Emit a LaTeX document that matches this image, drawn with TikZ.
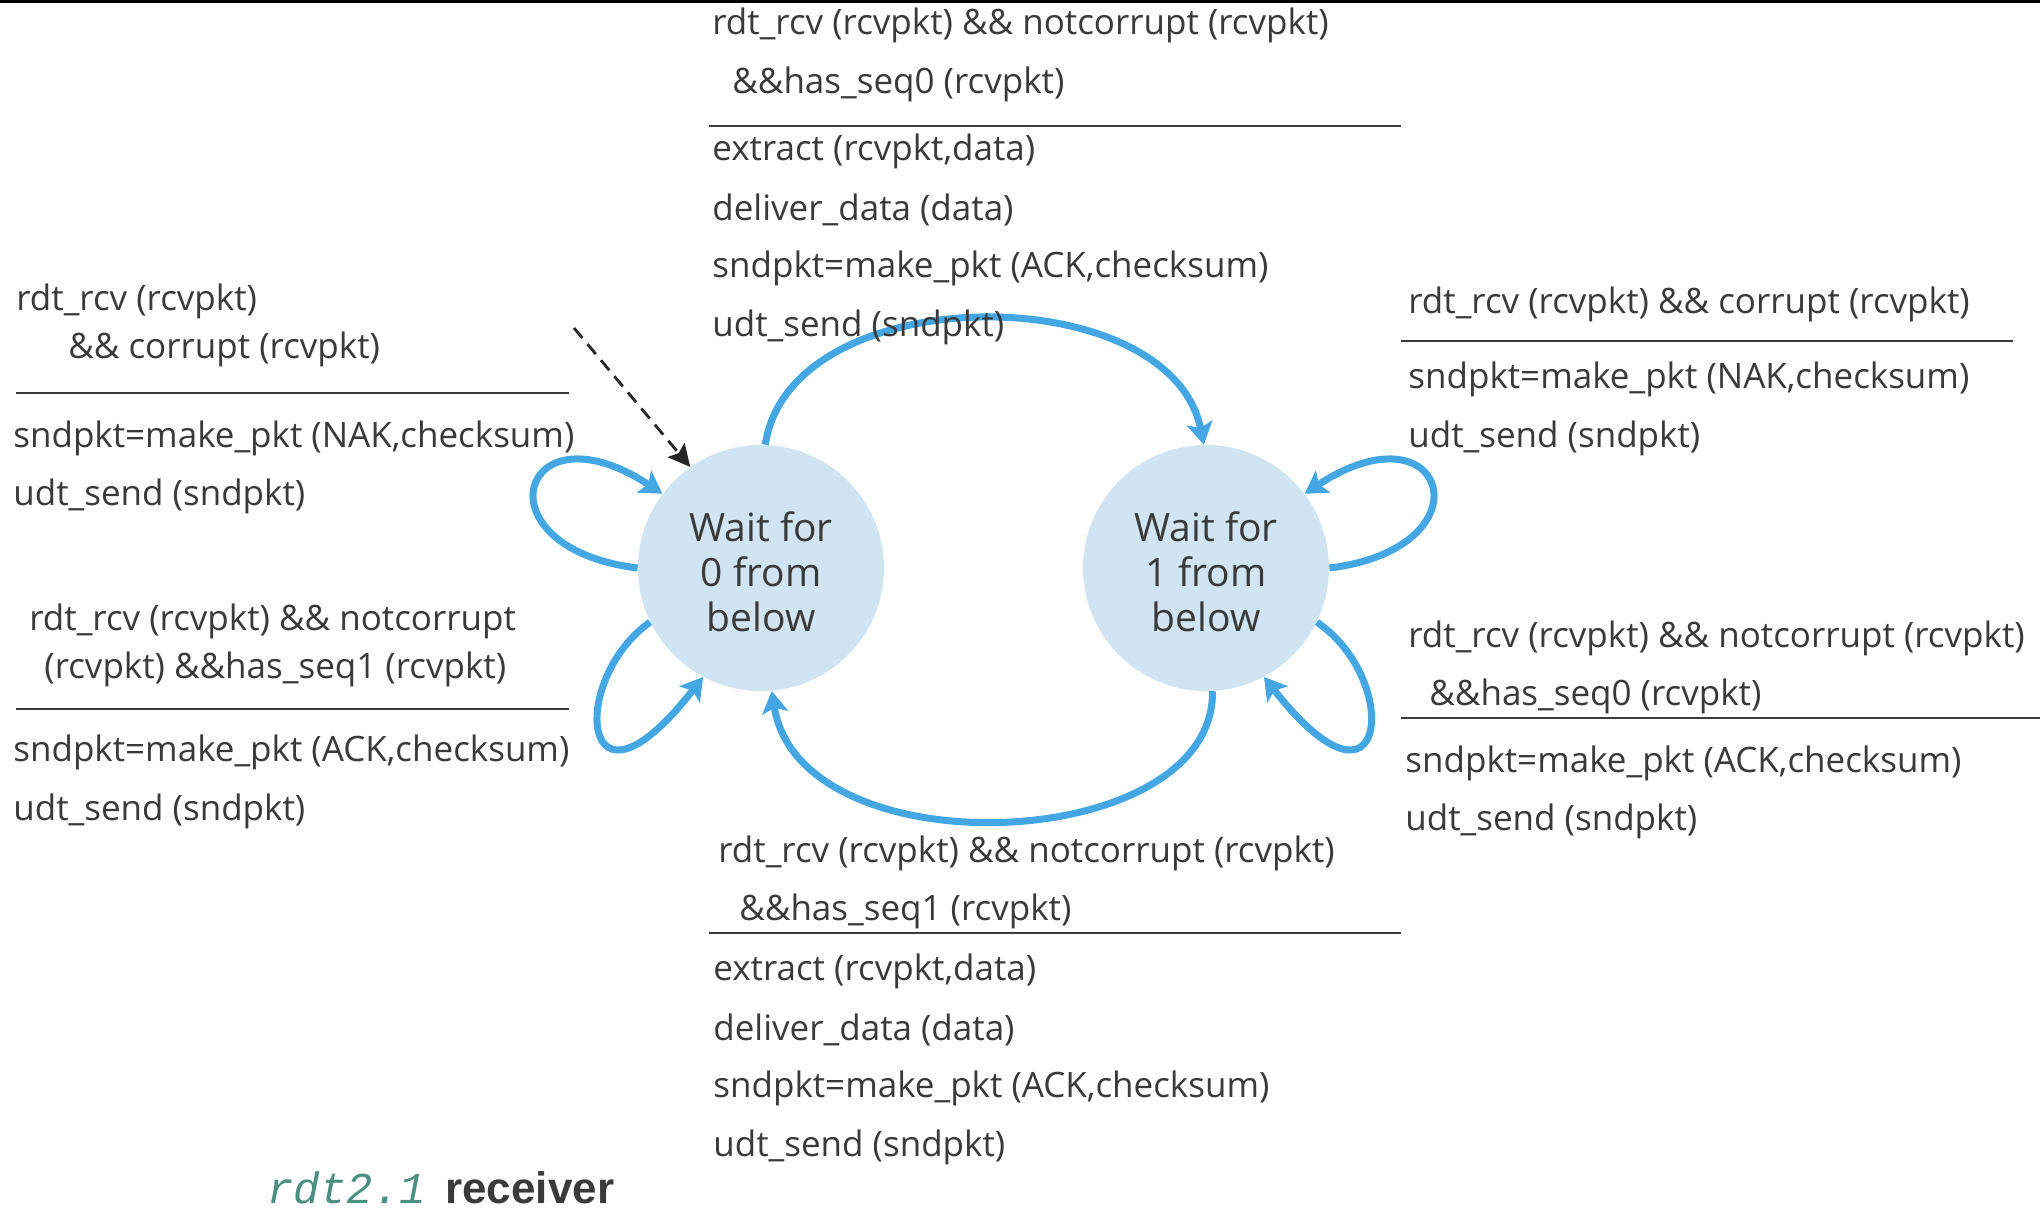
\documentclass[tikz,border=0pt]{standalone}
\usepackage{fontspec}
\setmainfont{Open Sans}
\newfontfamily\capmono{Liberation Mono}
\newfontfamily\capsans{Liberation Sans}
\usetikzlibrary{arrows.meta}
\definecolor{txtc}{HTML}{3A3A3A}
\definecolor{arrc}{HTML}{44A7E4}
\definecolor{stfill}{HTML}{D0E4F1}
\definecolor{teal}{HTML}{4A8F80}
\newcommand{\lblfont}{\fontsize{17.5}{21}\selectfont}
\tikzset{
  lbl/.style={anchor=west, inner sep=0pt, font=\lblfont, text=txtc, yshift=-1.5pt},
  rulestyle/.style={draw=txtc, line width=1pt},
  state/.style={circle, fill=stfill, minimum size=123pt, inner sep=0pt, align=center, text=txtc,
    font=\fontsize{19.5}{22.5}\selectfont},
  trans/.style={draw=arrc, line width=3.5pt, -{Stealth[length=11pt,width=13pt,inset=2.5pt]}},
  initarr/.style={draw=black!85, line width=1.4pt, dash pattern=on 6.5pt off 4pt,
    -{Stealth[length=11pt,width=11pt,inset=2pt]}}
}
\begin{document}
\begin{tikzpicture}[x=0.5pt, y=-0.5pt]
\useasboundingbox (0,0) rectangle (2040,1222);
\fill[white] (0,0) rectangle (2040,1222);
\draw[black, line width=1.5pt] (0,1) -- (2040,1);

% states
\node[state] (s0) at (761,568) {};
\node[state] (s1) at (1206,568) {};
\node[align=center, text=txtc, inner sep=0pt, font=\fontsize{19.5}{22.5}\selectfont] (s0t) at (761,572) {Wait for\\0 from\\below};
\node[align=center, text=txtc, inner sep=0pt, font=\fontsize{19.5}{22.5}\selectfont] (s1t) at (1206,572) {Wait for\\1 from\\below};

% transitions
\coordinate (init) at (574,328);
\draw[initarr] (init) -- (s0.125);
\draw[trans] (s0.88) .. controls (790,277) and (1170,277) .. (s1.91);
\draw[trans] (s1.273) .. controls (1215,855) and (800,872) .. (s0.275);
\draw[trans] (s0.180) .. controls (475,548) and (520,400) .. (s0.143);
\draw[trans] (s0.206) .. controls (568,680) and (580,835) .. (s0.242);
\draw[trans] (s1.0) .. controls (1492,548) and (1447,400) .. (s1.37);
\draw[trans] (s1.334) .. controls (1402,680) and (1388,835) .. (s1.298);

% top block
\node[lbl] (t1) at (712,22) {rdt\_rcv (rcvpkt) \&\& notcorrupt (rcvpkt)};
\node[lbl] (t2) at (732,81) {\&\&has\_seq0 (rcvpkt)};
\draw[rulestyle] (709,126) -- (1401,126);
\node[lbl] (t3) at (712,148) {extract (rcvpkt,data)};
\node[lbl] (t4) at (712,207) {deliver\_data (data)};
\node[lbl] (t5) at (712,265) {sndpkt=make\_pkt (ACK,checksum)};
\node[lbl] (t6) at (712,324) {udt\_send (sndpkt)};

% left top block
\node[lbl] (a1) at (16,298) {rdt\_rcv (rcvpkt)};
\node[lbl] (a2) at (68,346) {\&\& corrupt (rcvpkt)};
\draw[rulestyle] (16,393) -- (569,393);
\node[lbl] (a3) at (13,435) {sndpkt=make\_pkt (NAK,checksum)};
\node[lbl] (a4) at (13,493) {udt\_send (sndpkt)};

% left bottom block
\node[lbl] (b1) at (29,618) {rdt\_rcv (rcvpkt) \&\& notcorrupt};
\node[lbl] (b2) at (44,666) {(rcvpkt) \&\&has\_seq1 (rcvpkt)};
\draw[rulestyle] (16,709) -- (569,709);
\node[lbl] (b3) at (13,749) {sndpkt=make\_pkt (ACK,checksum)};
\node[lbl] (b4) at (13,808) {udt\_send (sndpkt)};

% right top block
\node[lbl] (c1) at (1408,301) {rdt\_rcv (rcvpkt) \&\& corrupt (rcvpkt)};
\draw[rulestyle] (1401,341) -- (2013,341);
\node[lbl] (c3) at (1408,376) {sndpkt=make\_pkt (NAK,checksum)};
\node[lbl] (c4) at (1408,435) {udt\_send (sndpkt)};

% right bottom block
\node[lbl] (d1) at (1408,635) {rdt\_rcv (rcvpkt) \&\& notcorrupt (rcvpkt)};
\node[lbl] (d2) at (1429,693) {\&\&has\_seq0 (rcvpkt)};
\draw[rulestyle] (1401,718) -- (2040,718);
\node[lbl] (d3) at (1405,760) {sndpkt=make\_pkt (ACK,checksum)};
\node[lbl] (d4) at (1405,818) {udt\_send (sndpkt)};

% bottom block
\node[lbl] (e1) at (718,850) {rdt\_rcv (rcvpkt) \&\& notcorrupt (rcvpkt)};
\node[lbl] (e2) at (739,908) {\&\&has\_seq1 (rcvpkt)};
\draw[rulestyle] (709,933) -- (1401,933);
\node[lbl] (e3) at (713,968) {extract (rcvpkt,data)};
\node[lbl] (e4) at (713,1027) {deliver\_data (data)};
\node[lbl] (e5) at (713,1085) {sndpkt=make\_pkt (ACK,checksum)};
\node[lbl] (e6) at (713,1144) {udt\_send (sndpkt)};

% caption
\node[anchor=west, inner sep=0pt, text=teal, font=\capmono\itshape\fontsize{22}{26}\selectfont] (cap1) at (267,1188) {rdt2.1};
\node[anchor=west, inner sep=0pt, text=txtc, font=\capsans\bfseries\fontsize{22}{26}\selectfont] (cap2) at (445,1188) {receiver};
\end{tikzpicture}
\end{document}
